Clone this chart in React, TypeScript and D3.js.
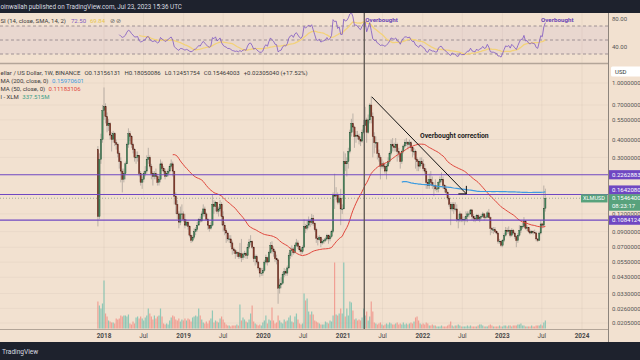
import React from 'react';
import * as d3 from 'd3';

const W = 640;
const H = 360;
const FIRST_WEEK = Date.UTC(2017, 11, 4);
const WEEK_MS = 7 * 24 * 3600 * 1000;
const FIRST_OPEN = 0.34;

// weekly closes
const close2017 = [0.115, 0.29, 0.40, 0.64];
const close2018 = [0.68, 0.58, 0.50, 0.52, 0.43, 0.40, 0.44, 0.38, 0.37, 0.32, 0.28, 0.24, 0.21, 0.23, 0.27, 0.37, 0.44, 0.42, 0.37, 0.34, 0.30, 0.30, 0.31, 0.23, 0.20, 0.21, 0.23, 0.24, 0.29, 0.30, 0.26, 0.23, 0.22, 0.23, 0.22, 0.20, 0.21, 0.27, 0.25, 0.24, 0.22, 0.23, 0.24, 0.26, 0.27, 0.24, 0.16, 0.14, 0.12, 0.105, 0.12, 0.12];
const close2019 = [0.11, 0.10, 0.105, 0.098, 0.085, 0.078, 0.082, 0.09, 0.093, 0.10, 0.11, 0.107, 0.12, 0.13, 0.12, 0.11, 0.10, 0.095, 0.10, 0.14, 0.135, 0.145, 0.125, 0.13, 0.14, 0.115, 0.10, 0.092, 0.088, 0.08, 0.08, 0.075, 0.068, 0.066, 0.063, 0.064, 0.06, 0.063, 0.059, 0.062, 0.063, 0.061, 0.07, 0.076, 0.077, 0.07, 0.058, 0.06, 0.055, 0.05, 0.046, 0.046];
const close2020 = [0.048, 0.055, 0.059, 0.055, 0.064, 0.072, 0.068, 0.065, 0.058, 0.057, 0.036, 0.038, 0.039, 0.045, 0.047, 0.046, 0.05, 0.061, 0.066, 0.068, 0.064, 0.072, 0.075, 0.071, 0.067, 0.065, 0.07, 0.098, 0.095, 0.10, 0.107, 0.104, 0.112, 0.103, 0.093, 0.081, 0.079, 0.082, 0.075, 0.077, 0.078, 0.08, 0.085, 0.08, 0.083, 0.09, 0.165, 0.16, 0.165, 0.145, 0.155, 0.13, 0.13];
const close2021 = [0.28, 0.27, 0.28, 0.33, 0.45, 0.52, 0.49, 0.42, 0.43, 0.42, 0.40, 0.39, 0.45, 0.50, 0.55, 0.45, 0.55, 0.70, 0.58, 0.42, 0.38, 0.38, 0.32, 0.30, 0.26, 0.27, 0.26, 0.24, 0.26, 0.28, 0.32, 0.37, 0.36, 0.35, 0.37, 0.33, 0.32, 0.28, 0.33, 0.36, 0.38, 0.38, 0.37, 0.38, 0.35, 0.33, 0.33, 0.29, 0.28, 0.26, 0.28];
const close2022 = [0.27, 0.25, 0.24, 0.20, 0.19, 0.21, 0.20, 0.19, 0.19, 0.18, 0.18, 0.20, 0.21, 0.21, 0.19, 0.18, 0.17, 0.155, 0.14, 0.13, 0.14, 0.13, 0.13, 0.11, 0.11, 0.12, 0.11, 0.11, 0.11, 0.115, 0.12, 0.12, 0.128, 0.115, 0.112, 0.11, 0.117, 0.11, 0.114, 0.115, 0.12, 0.113, 0.114, 0.122, 0.113, 0.095, 0.093, 0.093, 0.09, 0.088, 0.077, 0.077];
const close2023 = [0.072, 0.078, 0.085, 0.092, 0.09, 0.092, 0.085, 0.092, 0.088, 0.083, 0.078, 0.085, 0.092, 0.098, 0.098, 0.107, 0.095, 0.096, 0.09, 0.088, 0.09, 0.089, 0.088, 0.08, 0.078, 0.088, 0.102, 0.10, 0.13156131, 0.15464003];

// weekly highs
const high2017 = [0.36, 0.32, 0.44, 0.70];
const high2018 = [0.93, 0.72, 0.62, 0.56, 0.53, 0.45, 0.46, 0.45, 0.40, 0.38, 0.33, 0.30, 0.25, 0.25, 0.28, 0.38, 0.48, 0.46, 0.43, 0.38, 0.35, 0.33, 0.33, 0.31, 0.24, 0.22, 0.24, 0.26, 0.31, 0.35, 0.31, 0.27, 0.24, 0.24, 0.25, 0.23, 0.22, 0.29, 0.28, 0.26, 0.25, 0.24, 0.25, 0.27, 0.29, 0.28, 0.24, 0.17, 0.15, 0.125, 0.135, 0.14];
const high2019 = [0.125, 0.12, 0.11, 0.107, 0.10, 0.086, 0.085, 0.095, 0.097, 0.105, 0.112, 0.115, 0.125, 0.14, 0.135, 0.123, 0.112, 0.10, 0.105, 0.163, 0.15, 0.148, 0.145, 0.135, 0.15, 0.145, 0.125, 0.105, 0.095, 0.09, 0.085, 0.085, 0.078, 0.07, 0.068, 0.066, 0.065, 0.075, 0.08, 0.064, 0.066, 0.065, 0.074, 0.08, 0.085, 0.078, 0.071, 0.062, 0.062, 0.056, 0.05, 0.05];
const high2020 = [0.05, 0.057, 0.062, 0.06, 0.066, 0.076, 0.077, 0.071, 0.067, 0.062, 0.058, 0.042, 0.043, 0.047, 0.05, 0.049, 0.052, 0.064, 0.07, 0.072, 0.07, 0.074, 0.08, 0.078, 0.072, 0.069, 0.072, 0.11, 0.102, 0.108, 0.115, 0.11, 0.12, 0.118, 0.105, 0.096, 0.084, 0.085, 0.083, 0.08, 0.08, 0.083, 0.087, 0.086, 0.086, 0.093, 0.17, 0.23, 0.185, 0.17, 0.165, 0.18, 0.14];
const high2021 = [0.33, 0.32, 0.30, 0.35, 0.47, 0.56, 0.61, 0.50, 0.46, 0.46, 0.44, 0.42, 0.47, 0.55, 0.68, 0.57, 0.60, 0.72, 0.80, 0.62, 0.45, 0.42, 0.38, 0.34, 0.31, 0.29, 0.28, 0.27, 0.27, 0.30, 0.33, 0.40, 0.41, 0.38, 0.41, 0.38, 0.35, 0.32, 0.34, 0.37, 0.40, 0.41, 0.39, 0.40, 0.39, 0.36, 0.35, 0.34, 0.30, 0.29, 0.30];
const high2022 = [0.30, 0.29, 0.27, 0.25, 0.21, 0.23, 0.24, 0.22, 0.20, 0.21, 0.19, 0.205, 0.22, 0.235, 0.22, 0.195, 0.19, 0.175, 0.16, 0.145, 0.145, 0.145, 0.145, 0.14, 0.12, 0.125, 0.12, 0.115, 0.115, 0.125, 0.125, 0.125, 0.13, 0.13, 0.12, 0.115, 0.12, 0.12, 0.117, 0.12, 0.124, 0.121, 0.117, 0.126, 0.13, 0.115, 0.097, 0.097, 0.097, 0.092, 0.089, 0.08];
const high2023 = [0.078, 0.08, 0.088, 0.097, 0.096, 0.098, 0.093, 0.095, 0.094, 0.09, 0.085, 0.088, 0.10, 0.10, 0.104, 0.114, 0.108, 0.10, 0.097, 0.093, 0.092, 0.092, 0.093, 0.09, 0.081, 0.09, 0.108, 0.104, 0.19, 0.18050086];

// weekly lows
const low2017 = [0.098, 0.11, 0.27, 0.38];
const low2018 = [0.55, 0.52, 0.45, 0.46, 0.40, 0.33, 0.38, 0.36, 0.34, 0.30, 0.25, 0.20, 0.17, 0.20, 0.21, 0.27, 0.35, 0.39, 0.35, 0.32, 0.28, 0.27, 0.28, 0.22, 0.19, 0.18, 0.20, 0.22, 0.23, 0.27, 0.25, 0.21, 0.19, 0.21, 0.21, 0.19, 0.19, 0.20, 0.24, 0.23, 0.21, 0.22, 0.22, 0.23, 0.25, 0.22, 0.14, 0.12, 0.11, 0.095, 0.10, 0.11];
const low2019 = [0.105, 0.095, 0.098, 0.093, 0.082, 0.075, 0.076, 0.08, 0.085, 0.09, 0.10, 0.104, 0.105, 0.115, 0.115, 0.108, 0.093, 0.09, 0.093, 0.098, 0.12, 0.125, 0.12, 0.115, 0.125, 0.10, 0.09, 0.085, 0.075, 0.077, 0.075, 0.07, 0.062, 0.063, 0.058, 0.06, 0.058, 0.058, 0.055, 0.057, 0.059, 0.058, 0.058, 0.068, 0.072, 0.068, 0.055, 0.052, 0.053, 0.048, 0.043, 0.044];
const low2020 = [0.044, 0.047, 0.053, 0.052, 0.055, 0.063, 0.063, 0.06, 0.055, 0.053, 0.028, 0.033, 0.036, 0.038, 0.043, 0.044, 0.044, 0.049, 0.058, 0.06, 0.062, 0.063, 0.07, 0.068, 0.065, 0.062, 0.063, 0.069, 0.088, 0.092, 0.095, 0.097, 0.10, 0.099, 0.09, 0.075, 0.072, 0.077, 0.07, 0.073, 0.074, 0.076, 0.078, 0.074, 0.077, 0.081, 0.088, 0.13, 0.15, 0.14, 0.14, 0.10, 0.12];
const low2021 = [0.13, 0.24, 0.22, 0.25, 0.32, 0.42, 0.45, 0.35, 0.38, 0.40, 0.37, 0.36, 0.38, 0.44, 0.50, 0.38, 0.44, 0.52, 0.52, 0.30, 0.32, 0.35, 0.29, 0.28, 0.21, 0.25, 0.25, 0.23, 0.21, 0.26, 0.27, 0.31, 0.33, 0.33, 0.33, 0.28, 0.30, 0.25, 0.27, 0.32, 0.35, 0.36, 0.34, 0.35, 0.33, 0.30, 0.31, 0.25, 0.24, 0.24, 0.25];
const low2022 = [0.26, 0.24, 0.23, 0.18, 0.18, 0.18, 0.19, 0.18, 0.16, 0.175, 0.17, 0.17, 0.19, 0.20, 0.18, 0.17, 0.165, 0.15, 0.135, 0.10, 0.125, 0.12, 0.125, 0.105, 0.095, 0.105, 0.105, 0.105, 0.10, 0.105, 0.105, 0.113, 0.118, 0.108, 0.106, 0.105, 0.107, 0.107, 0.105, 0.11, 0.113, 0.108, 0.11, 0.112, 0.112, 0.085, 0.088, 0.087, 0.088, 0.086, 0.074, 0.074];
const low2023 = [0.07, 0.07, 0.076, 0.083, 0.087, 0.087, 0.082, 0.083, 0.086, 0.08, 0.07, 0.075, 0.083, 0.088, 0.094, 0.096, 0.093, 0.091, 0.088, 0.086, 0.087, 0.086, 0.087, 0.077, 0.076, 0.078, 0.086, 0.095, 0.096, 0.12451754];

// weekly volume (millions XLM)
const vol2017 = [1134, 966, 840, 1050];
const vol2018 = [2016, 630, 504, 336, 294, 252, 252, 210, 420, 378, 420, 546, 504, 546, 546, 504, 588, 210, 168, 294, 210, 462, 504, 420, 504, 420, 336, 462, 546, 840, 630, 504, 378, 546, 420, 504, 546, 840, 504, 210, 168, 210, 168, 336, 462, 546, 504, 378, 336, 420, 294, 378];
const vol2019 = [336, 420, 336, 420, 378, 294, 462, 504, 546, 504, 840, 546, 378, 252, 210, 294, 210, 336, 420, 756, 252, 336, 294, 252, 420, 504, 378, 252, 168, 126, 126, 84, 126, 126, 126, 168, 126, 1008, 336, 462, 378, 294, 252, 378, 630, 966, 294, 210, 168, 126, 168, 126];
const vol2020 = [252, 336, 546, 210, 378, 336, 882, 336, 210, 252, 546, 336, 252, 210, 378, 294, 336, 462, 546, 294, 252, 504, 630, 378, 210, 168, 210, 1470, 1176, 1260, 714, 588, 714, 588, 336, 294, 252, 210, 168, 168, 168, 294, 252, 210, 336, 294, 546, 2772, 588, 546, 630, 840, 630];
const vol2021 = [2772, 504, 840, 546, 1134, 1092, 756, 378, 420, 336, 378, 336, 462, 840, 546, 714, 336, 504, 1134, 714, 252, 210, 168, 210, 252, 168, 126, 168, 210, 168, 252, 210, 168, 168, 210, 252, 168, 210, 168, 252, 168, 210, 168, 210, 252, 210, 294, 462, 504, 336, 210];
const vol2022 = [168, 210, 168, 252, 210, 126, 126, 168, 126, 126, 84, 84, 84, 126, 84, 84, 84, 126, 168, 294, 126, 84, 126, 126, 168, 126, 84, 84, 84, 84, 126, 84, 126, 84, 84, 84, 84, 126, 168, 168, 126, 84, 84, 84, 126, 168, 126, 84, 84, 84, 84, 126];
const vol2023 = [84, 84, 126, 126, 84, 126, 126, 84, 126, 126, 126, 168, 168, 210, 126, 126, 84, 84, 84, 84, 126, 84, 84, 126, 126, 126, 168, 126, 252, 337.515];

const closes = [...close2017, ...close2018, ...close2019, ...close2020, ...close2021, ...close2022, ...close2023];
const highs = [...high2017, ...high2018, ...high2019, ...high2020, ...high2021, ...high2022, ...high2023];
const lows = [...low2017, ...low2018, ...low2019, ...low2020, ...low2021, ...low2022, ...low2023];
const volumes = [...vol2017, ...vol2018, ...vol2019, ...vol2020, ...vol2021, ...vol2022, ...vol2023];

const priceTicks = [1.0, 0.7, 0.55, 0.4, 0.3, 0.12, 0.09, 0.07, 0.055, 0.043, 0.033, 0.026, 0.0205];
const levelLines = [0.2262883, 0.164208, 0.1084124];
const levelLabelShift = [0, -4.5, 0];
const timeTicks = [
  { y: 2018, m: 0, label: '2018' }, { y: 2018, m: 6, label: 'Jul' },
  { y: 2019, m: 0, label: '2019' }, { y: 2019, m: 6, label: 'Jul' },
  { y: 2020, m: 0, label: '2020' }, { y: 2020, m: 6, label: 'Jul' },
  { y: 2021, m: 0, label: '2021' }, { y: 2021, m: 6, label: 'Jul' },
  { y: 2022, m: 0, label: '2022' }, { y: 2022, m: 6, label: 'Jul' },
  { y: 2023, m: 0, label: '2023' }, { y: 2023, m: 6, label: 'Jul' },
  { y: 2024, m: 0, label: '2024' },
];
const rsiTicks = [80, 40];
const legendOHLC = ['O0.13156131', 'H0.18050086', 'L0.12451754', 'C0.15464003', '+0.02305040 (+17.52%)'];
const overboughtDate = Date.UTC(2021, 3, 8);
const arrowFrom = { date: Date.UTC(2021, 4, 12), price: 0.80 };
const arrowTo = { date: Date.UTC(2022, 6, 20), price: 0.166 };

const FONT = "Roboto, 'Liberation Sans', Arial, sans-serif";
const BG = '#f2e1d0';
const PURPLE = '#6f47c2';
const GREEN_LBL = '#58a27c';

function sma(arr: (number | null)[], n: number): (number | null)[] {
  return arr.map((_, i) => {
    if (i < n - 1) return null;
    let s = 0;
    for (let k = i - n + 1; k <= i; k++) {
      const v = arr[k];
      if (v == null) return null;
      s += v;
    }
    return s / n;
  });
}

function rsiCalc(c: number[], n: number): (number | null)[] {
  const out: (number | null)[] = c.map(() => null);
  let g = 0, l = 0;
  for (let i = 1; i < c.length; i++) {
    const ch = c[i] - c[i - 1];
    const up = Math.max(ch, 0), dn = Math.max(-ch, 0);
    if (i <= n) {
      g += up; l += dn;
      if (i === n) { g /= n; l /= n; out[i] = l === 0 ? 100 : 100 - 100 / (1 + g / l); }
    } else {
      g = (g * (n - 1) + up) / n;
      l = (l * (n - 1) + dn) / n;
      out[i] = l === 0 ? 100 : 100 - 100 / (1 + g / l);
    }
  }
  return out;
}

export default function App() {
  const x = d3.scaleUtc().domain([new Date(Date.UTC(2018, 0, 1)), new Date(Date.UTC(2024, 0, 1))]).range([104, 582]);
  const y = d3.scaleLog().domain([1, 0.0205]).range([83, 323]);
  const yRsi = d3.scaleLinear().domain([30, 70]).range([54, 26]);
  const yVol = d3.scaleLinear().domain([0, 2772]).range([328.5, 262.5]);

  const bars = closes.map((c, i) => {
    const o = i === 0 ? FIRST_OPEN : closes[i - 1];
    return {
      i,
      date: new Date(FIRST_WEEK + i * WEEK_MS),
      o, c,
      h: Math.max(highs[i], o, c),
      l: Math.min(lows[i], o, c),
      v: volumes[i],
    };
  });
  const ma50 = sma(closes, 50);
  const ma200 = sma(closes, 200);
  const rsi = rsiCalc(closes, 14);
  const rsiMa = sma(rsi, 14);

  const lineGen = (vals: (number | null)[], ys: (v: number) => number) =>
    d3.line<number | null>()
      .defined((v) => v != null)
      .x((_, i) => x(bars[i].date))
      .y((v) => ys(v as number))(vals) || '';

  const last = bars[bars.length - 1];
  const xo = x(new Date(overboughtDate));
  const ax1 = x(new Date(arrowFrom.date)), ay1 = y(arrowFrom.price);
  const ax2 = x(new Date(arrowTo.date)), ay2 = y(arrowTo.price);

  const upBody = '#46895f', upEdge = '#23482f';
  const dnBody = '#8a3a2a', dnEdge = '#451a12';
  const wick = '#a39c95';
  const lastY = y(last.c);

  return (
    <svg width={W} height={H} style={{ position: 'absolute', left: 0, top: 0 }} fontFamily={FONT}>
      <defs>
        <clipPath id="mainClip"><rect x={0} y={64} width={608} height={265} /></clipPath>
        <clipPath id="rsiClip"><rect x={0} y={13} width={608} height={50} /></clipPath>
        <clipPath id="axisClip"><rect x={608} y={13} width={32} height={330} /></clipPath>
      </defs>
      <rect x={0} y={0} width={W} height={H} fill={BG} />

      {/* grid */}
      {timeTicks.map((t, k) => (
        <line key={'vg' + k} x1={x(new Date(Date.UTC(t.y, t.m, 1)))} x2={x(new Date(Date.UTC(t.y, t.m, 1)))} y1={13} y2={329} stroke="#000" strokeOpacity={0.04} />
      ))}
      {priceTicks.map((p, k) => (
        <line key={'hg' + k} x1={0} x2={608} y1={y(p)} y2={y(p)} stroke="#000" strokeOpacity={0.035} />
      ))}

      {/* RSI pane */}
      <rect x={0} y={yRsi(70)} width={608} height={yRsi(30) - yRsi(70)} fill="#7e57c2" fillOpacity={0.07} />
      {[70, 50, 30].map((v) => (
        <line key={'rl' + v} x1={0} x2={608} y1={yRsi(v)} y2={yRsi(v)} stroke="#8a7f86" strokeWidth={0.8} strokeDasharray="3,2.5" />
      ))}
      <g clipPath="url(#rsiClip)">
        <path d={lineGen(rsiMa, yRsi)} fill="none" stroke="#f3d27a" strokeWidth={1.3} />
        <path d={lineGen(rsi, yRsi)} fill="none" stroke="#7e57c2" strokeWidth={0.8} />
      </g>
      <line x1={0} x2={608} y1={63.5} y2={63.5} stroke="#b3a598" strokeWidth={1.3} />

      {/* volume */}
      <g clipPath="url(#mainClip)">
        {bars.map((b) => (
          <rect key={'v' + b.i} x={x(b.date) - 0.6} y={yVol(b.v)} width={1.2} height={yVol(0) - yVol(b.v)}
            fill={b.c >= b.o ? '#6fbfae' : '#f08a80'} fillOpacity={0.75} />
        ))}
      </g>

      {/* candles */}
      <g clipPath="url(#mainClip)">
        {bars.map((b) => (
          <line key={'w' + b.i} x1={x(b.date)} x2={x(b.date)} y1={y(b.h)} y2={y(b.l)} stroke={wick} strokeWidth={0.7} />
        ))}
        {bars.map((b) => {
          const up = b.c >= b.o;
          const top = y(Math.max(b.o, b.c));
          const bot = y(Math.min(b.o, b.c));
          return (
            <rect key={'b' + b.i} x={x(b.date) - 0.65} y={top} width={1.3} height={Math.max(bot - top, 0.6)}
              fill={up ? upBody : dnBody} stroke={up ? upEdge : dnEdge} strokeWidth={0.35} />
          );
        })}
        <path d={lineGen(ma50, y)} fill="none" stroke="#e0463c" strokeWidth={1} />
        <path d={lineGen(ma200, y)} fill="none" stroke="#3d9be0" strokeWidth={1.2} />
        {levelLines.map((p, k) => (
          <line key={'lv' + k} x1={0} x2={608} y1={y(p)} y2={y(p)} stroke={PURPLE} strokeWidth={1.1} />
        ))}
        <line x1={0} x2={608} y1={lastY} y2={lastY} stroke="#7a9a84" strokeWidth={0.7} strokeDasharray="1,2" />
        {/* arrow annotation */}
        <line x1={ax1} y1={ay1} x2={ax2} y2={ay2} stroke="#111" strokeWidth={1} />
        <line x1={ax2} y1={ay2} x2={ax2 - 8} y2={ay2} stroke="#111" strokeWidth={1} />
        <line x1={ax2} y1={ay2} x2={ax2} y2={ay2 - 8} stroke="#111" strokeWidth={1} />
        <text x={420} y={137.5} fontSize={6.8} fontWeight="bold" fill="#222">Overbought correction</text>
      </g>

      {/* vertical marker */}
      <line x1={xo} x2={xo} y1={13} y2={329} stroke="#5c5650" strokeWidth={1.3} />

      {/* RSI annotations / legend */}
      <text x={xo + 1} y={22} fontSize={6.2} fontWeight="bold" fill="#6a46b4">Overbought</text>
      <text x={541} y={22} fontSize={6.2} fontWeight="bold" fill="#6a46b4">Overbought</text>
      <text x={0.5} y={23} fontSize={6} fill="#3b3b3b">SI (14, close, SMA, 14, 2)</text>
      <text x={71} y={23} fontSize={6} fill="#7e57c2">72.50</text>
      <text x={90} y={23} fontSize={6} fill="#e8c54a">69.84</text>
      <text x={110} y={23} fontSize={5.5} fill="#666">⊘ ⊘</text>

      {/* main legend */}
      <text y={75} fontSize={6} fill="#3b3b3b">
        <tspan x={0.5}>ellar / US Dollar, 1W, BINANCE</tspan>
        {legendOHLC.map((s, k) => (
          <tspan key={'lg' + k} dx={4}>{s}</tspan>
        ))}
      </text>
      <text x={0.5} y={82.5} fontSize={6} fill="#3b3b3b">MA (200, close, 0) <tspan dx={2} fill="#3d9be0">0.15970601</tspan></text>
      <text x={0.5} y={90.5} fontSize={6} fill="#3b3b3b">MA (50, close, 0) <tspan dx={2} fill="#e0463c">0.11183106</tspan></text>
      <text x={0.5} y={98.5} fontSize={6} fill="#3b3b3b">l - XLM <tspan dx={2} fill="#3aa088">337.515M</tspan></text>

      {/* bottom axis */}
      <line x1={0} x2={608} y1={329.5} y2={329.5} stroke="#b3a598" strokeWidth={1} />
      {timeTicks.map((t, k) => (
        <text key={'tx' + k} x={x(new Date(Date.UTC(t.y, t.m, 1)))} y={338} fontSize={6.4} textAnchor="middle"
          fill="#4a4a4a" fontWeight={t.m === 0 ? 'bold' : 'normal'}>{t.label}</text>
      ))}

      {/* right axis */}
      <line x1={608.5} x2={608.5} y1={13} y2={342} stroke="#8d847c" strokeWidth={1} />
      <g clipPath="url(#axisClip)">
        <rect x={611} y={66.5} width={32} height={10} rx={1.5} fill="#ffffff" />
        <text x={615} y={73.8} fontSize={6} fill="#333">USD</text>
        {rsiTicks.map((v) => (
          <text key={'rt' + v} x={612} y={yRsi(v) + 2.2} fontSize={6} fill="#555">{v.toFixed(2)}</text>
        ))}
        {priceTicks.map((p, k) => (
          <text key={'pt' + k} x={612} y={y(p) + 2.2} fontSize={6} fill="#555">{p.toFixed(7)}</text>
        ))}
        {levelLines.map((p, k) => (
          <g key={'ll' + k}>
            <rect x={609} y={y(p) + levelLabelShift[k] - 4.6} width={32} height={9.2} fill={PURPLE} />
            <text x={612} y={y(p) + levelLabelShift[k] + 2.2} fontSize={6} fill="#fff">{p.toFixed(7)}</text>
          </g>
        ))}
        <rect x={609} y={lastY - 4} width={32} height={16.5} fill={GREEN_LBL} />
        <text x={612} y={lastY + 2.2} fontSize={6} fill="#fff">{last.c.toFixed(7)}</text>
        <text x={612} y={lastY + 9.6} fontSize={6} fill="#fff">08:23:17</text>
      </g>
      <rect x={581} y={lastY - 4} width={26.5} height={8.2} fill={GREEN_LBL} />
      <text x={583} y={lastY + 2} fontSize={5.6} fill="#fff">XLMUSD</text>

      {/* header / footer */}
      <rect x={0} y={0} width={W} height={13} fill="#1e222d" />
      <text x={0.5} y={9} fontSize={6.3} fill="#d9dbe0">oinwallah published on TradingView.com, Jul 23, 2023 15:36 UTC</text>
      <rect x={0} y={342} width={W} height={18} fill="#1e222d" />
      <text x={2} y={354} fontSize={6.6} fill="#d9dbe0">TradingView</text>
    </svg>
  );
}
